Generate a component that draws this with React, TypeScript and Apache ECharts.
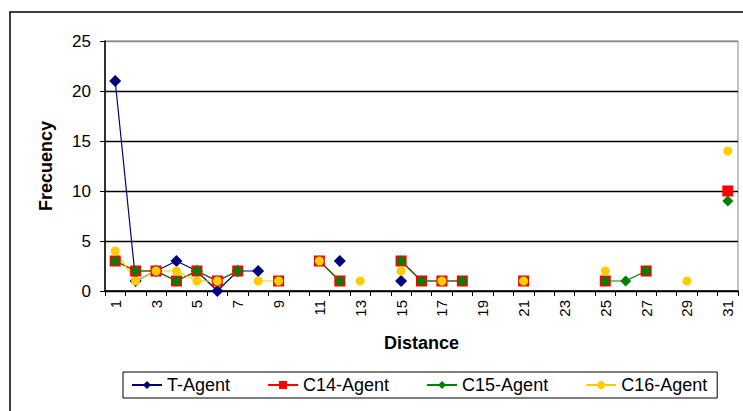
import React, { useEffect, useRef } from "react";
import * as echarts from "echarts";

const categories = Array.from({ length: 31 }, (_, i) => String(i + 1));
const N = null;
// index 0 = distance 1 ... index 30 = distance 31
const tAgent = [21, 1, 2, 3, 2, 0, 2, 2, N, N, N, 3, N, N, 1, N, N, N, N, N, N, N, N, N, N, N, N, N, N, N, N];
const c14Agent = [3, 2, 2, 1, 2, 1, 2, N, 1, N, 3, 1, N, N, 3, 1, 1, 1, N, N, 1, N, N, N, 1, N, 2, N, N, N, 10];
const c15Agent = [3, 2, 2, 1, 2, 1, 2, N, 1, N, 3, 1, N, N, 3, 1, 1, 1, N, N, 1, N, N, N, 1, 1, 2, N, N, N, 9];
const c16Agent = [4, 1, 2, 2, 1, 1, N, 1, 1, N, 3, N, 1, N, 2, N, 1, N, N, N, 1, N, N, N, 2, N, N, N, 1, N, 14];
const yTicks = { min: 0, max: 25, interval: 5 };

const FONT = "'Liberation Sans', Arial, sans-serif";

export default function App() {
  const ref = useRef<HTMLDivElement>(null);
  useEffect(() => {
    document.body.style.margin = "0";
    const chart = echarts.init(ref.current!, null, { renderer: "svg" });
    const mk = (name: string, data: any[], color: string, symbol: string, size: number) => ({
      name,
      type: "line",
      data,
      symbol,
      symbolSize: size,
      connectNulls: false,
      lineStyle: { color, width: 1.2 },
      itemStyle: { color, borderWidth: 0 },
      emphasis: { disabled: true },
    });
    chart.setOption({
      animation: false,
      textStyle: { fontFamily: FONT },
      grid: {
        left: 105,
        right: 5,
        top: 41,
        bottom: 120,
        show: true,
        borderColor: "#888",
        borderWidth: 1,
      },
      graphic: [
        {
          type: "rect",
          shape: { x: 10, y: 12, width: 760, height: 420 },
          style: { fill: "none", stroke: "#000", lineWidth: 1.5 },
          silent: true,
          z: -1,
        },
      ],
      legend: {
        left: 123,
        top: 372,
        width: 610,
        padding: [4, 10, 4, 8],
        borderColor: "#000",
        borderWidth: 1,
        itemWidth: 30,
        itemHeight: 10,
        itemGap: 37,
        textStyle: { fontFamily: FONT, fontSize: 18, color: "#000" },
        data: ["T-Agent", "C14-Agent", "C15-Agent", "C16-Agent"],
      },
      xAxis: {
        type: "category",
        data: categories,
        boundaryGap: true,
        name: "Distance",
        nameLocation: "middle",
        nameGap: 43,
        nameTextStyle: { fontFamily: FONT, fontSize: 18, fontWeight: "bold", color: "#000" },
        axisLine: { lineStyle: { color: "#000", width: 1.5 } },
        axisTick: { show: true, interval: 0, length: 5, lineStyle: { color: "#000" } },
        axisLabel: {
          interval: 1,
          rotate: 90,
          margin: 9,
          fontFamily: FONT,
          fontSize: 15,
          color: "#000",
        },
        splitLine: { show: false },
      },
      yAxis: {
        type: "value",
        min: yTicks.min,
        max: yTicks.max,
        interval: yTicks.interval,
        name: "Frecuency",
        nameLocation: "middle",
        nameGap: 50,
        nameTextStyle: { fontFamily: FONT, fontSize: 18, fontWeight: "bold", color: "#000" },
        axisLine: { show: true, lineStyle: { color: "#000", width: 1.5 } },
        axisTick: { show: true, length: 5, lineStyle: { color: "#000" } },
        axisLabel: { fontFamily: FONT, fontSize: 17, color: "#000", margin: 14 },
        splitLine: {
          show: true,
          lineStyle: { color: ["#000", "#000", "#000", "#000", "#000", "#888"], width: 1.3 },
        },
      },
      series: [
        mk("T-Agent", tAgent, "#000080", "diamond", 12),
        mk("C14-Agent", c14Agent, "#FF0000", "rect", 11),
        mk("C15-Agent", c15Agent, "#008000", "diamond", 11),
        mk("C16-Agent", c16Agent, "#FFCC00", "circle", 9),
      ],
    });
    return () => chart.dispose();
  }, []);
  return <div ref={ref} style={{ width: 743, height: 411 }} />;
}
